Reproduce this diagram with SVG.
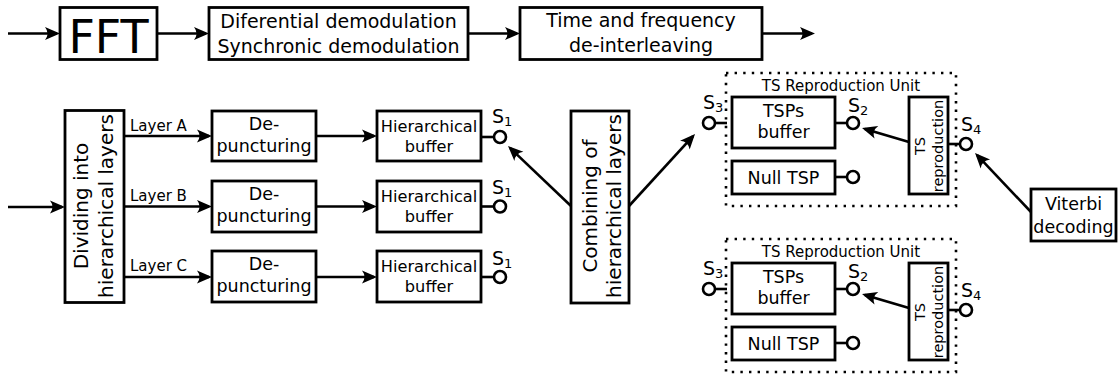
<svg xmlns="http://www.w3.org/2000/svg" width="1120" height="379" viewBox="0 0 1120 379">
  <style>
    .box { fill: #fff; stroke: #000; stroke-width: 2.8; }
    .unit { fill: none; stroke: #000; stroke-width: 2.6; stroke-dasharray: 2.4 6.2; }
    .wire { fill: none; stroke: #000; stroke-width: 2.6; }
    .arr { fill: none; stroke: #000; stroke-width: 2.6; marker-end: url(#ah); }
    .port { fill: #fff; stroke: #000; stroke-width: 2.6; }
    text { font-family: "DejaVu Sans", "Liberation Sans", sans-serif; fill: #000; }
    .t19 { font-size: 19px; text-anchor: middle; }
    .t20 { font-size: 20px; text-anchor: middle; }
    .t17 { font-size: 17.5px; text-anchor: middle; }
    .t16 { font-size: 16.2px; text-anchor: middle; }
    .t15 { font-size: 15px; }
    .t14 { font-size: 14.5px; text-anchor: middle; }
    .lbl { font-size: 19px; }
    .sub { font-size: 13px; }
  </style>
  <defs>
    <marker id="ah" markerUnits="userSpaceOnUse" orient="auto" refX="15" refY="0" markerWidth="20" markerHeight="14" overflow="visible">
      <path d="M18,0 L3,-6.5 Q8,0 3,6.5 Z" fill="#000"/>
    </marker>
  </defs>

  <!-- top chain -->
  <g id="fft">
    <rect class="box" x="60" y="7.5" width="97" height="52"/>
    <text x="108.5" y="53" style="font-size:46px;text-anchor:middle">FFT</text>
  </g>
  <g id="demodulation">
    <rect class="box" x="209" y="7.5" width="259" height="52"/>
    <text class="t19" x="338.5" y="27.5">Diferential demodulation</text>
    <text class="t19" x="338.5" y="52.5">Synchronic demodulation</text>
  </g>
  <g id="deinterleaving">
    <rect class="box" x="520" y="7.5" width="242" height="52"/>
    <text class="t19" x="641" y="27">Time and frequency</text>
    <text class="t19" x="641" y="52">de-interleaving</text>
  </g>

  <!-- layer split -->
  <g id="dividing">
    <rect class="box" x="65" y="110.5" width="59" height="192"/>
    <g transform="translate(94.5,206) rotate(-90)">
      <text class="t20" x="0" y="-6.5">Dividing into</text>
      <text class="t20" x="0" y="18.5">hierarchical layers</text>
    </g>
  </g>
  <g id="layer-labels">
    <text class="t15" x="130" y="131">Layer A</text>
    <text class="t15" x="130" y="201">Layer B</text>
    <text class="t15" x="130" y="271">Layer C</text>
  </g>

  <g id="depuncturing-a">
    <rect class="box" x="212" y="111" width="104" height="50"/>
    <text class="t17" x="264" y="130">De-</text>
    <text class="t17" x="264" y="152">puncturing</text>
  </g>
  <g id="depuncturing-b">
    <rect class="box" x="212" y="181" width="104" height="51"/>
    <text class="t17" x="264" y="200">De-</text>
    <text class="t17" x="264" y="222">puncturing</text>
  </g>
  <g id="depuncturing-c">
    <rect class="box" x="212" y="251" width="104" height="51"/>
    <text class="t17" x="264" y="270">De-</text>
    <text class="t17" x="264" y="292">puncturing</text>
  </g>

  <g id="buffer-a">
    <rect class="box" x="377" y="111" width="104" height="50"/>
    <text class="t16" x="429" y="132">Hierarchical</text>
    <text class="t16" x="429" y="152">buffer</text>
    <line class="wire" x1="481" y1="137" x2="494" y2="137"/>
    <circle class="port" cx="500" cy="137" r="6"/>
    <text class="lbl" x="492" y="123">S<tspan class="sub" dy="3">1</tspan></text>
  </g>
  <g id="buffer-b">
    <rect class="box" x="377" y="181" width="104" height="51"/>
    <text class="t16" x="429" y="202">Hierarchical</text>
    <text class="t16" x="429" y="222">buffer</text>
    <line class="wire" x1="481" y1="206.5" x2="494" y2="206.5"/>
    <circle class="port" cx="500" cy="206.5" r="6"/>
    <text class="lbl" x="492" y="194">S<tspan class="sub" dy="3">1</tspan></text>
  </g>
  <g id="buffer-c">
    <rect class="box" x="377" y="251" width="104" height="51"/>
    <text class="t16" x="429" y="272">Hierarchical</text>
    <text class="t16" x="429" y="292">buffer</text>
    <line class="wire" x1="481" y1="277" x2="494" y2="277"/>
    <circle class="port" cx="500" cy="277" r="6"/>
    <text class="lbl" x="492" y="265">S<tspan class="sub" dy="3">1</tspan></text>
  </g>

  <g id="combining">
    <rect class="box" x="571" y="111" width="58" height="192"/>
    <g transform="translate(600,206) rotate(-90)">
      <text class="t20" x="0" y="-3">Combining of</text>
      <text class="t20" x="0" y="21">hierarchical layers</text>
    </g>
  </g>

  <!-- TS reproduction units -->
  <g id="ts-unit-1">
    <rect class="unit" x="726" y="73" width="230" height="133"/>
    <text class="t15" x="841" y="90.5" text-anchor="middle">TS Reproduction Unit</text>
    <rect class="box" x="732" y="97" width="103" height="51"/>
    <text class="t17" x="783.5" y="117">TSPs</text>
    <text class="t17" x="783.5" y="138">buffer</text>
    <rect class="box" x="732" y="161" width="103" height="33"/>
    <text class="t17" x="783.5" y="183.5">Null TSP</text>
    <rect class="box" x="909" y="97" width="39" height="97"/>
    <g transform="translate(928.5,146) rotate(-90)">
      <text class="t14" x="0" y="-4">TS</text>
      <text class="t14" x="0" y="14">reproduction</text>
    </g>
    <line class="wire" x1="715" y1="123" x2="727" y2="123"/>
    <circle class="port" cx="709" cy="123" r="6"/>
    <text class="lbl" x="703" y="108.5">S<tspan class="sub" dy="3">3</tspan></text>
    <line class="wire" x1="835" y1="123" x2="847" y2="123"/>
    <circle class="port" cx="853" cy="123" r="6"/>
    <text class="lbl" x="848" y="111.5">S<tspan class="sub" dy="3">2</tspan></text>
    <line class="wire" x1="835" y1="177" x2="847" y2="177"/>
    <circle class="port" cx="853" cy="177" r="6"/>
    <line class="wire" x1="948" y1="144" x2="960" y2="144"/>
    <circle class="port" cx="966" cy="144" r="6"/>
    <text class="lbl" x="961" y="130.5">S<tspan class="sub" dy="3">4</tspan></text>
  </g>

  <g id="ts-unit-2">
    <rect class="unit" x="726" y="239" width="230" height="133"/>
    <text class="t15" x="841" y="256.5" text-anchor="middle">TS Reproduction Unit</text>
    <rect class="box" x="732" y="263" width="103" height="51"/>
    <text class="t17" x="783.5" y="283">TSPs</text>
    <text class="t17" x="783.5" y="304">buffer</text>
    <rect class="box" x="732" y="327" width="103" height="33"/>
    <text class="t17" x="783.5" y="349.5">Null TSP</text>
    <rect class="box" x="909" y="263" width="39" height="97"/>
    <g transform="translate(928.5,312) rotate(-90)">
      <text class="t14" x="0" y="-4">TS</text>
      <text class="t14" x="0" y="14">reproduction</text>
    </g>
    <line class="wire" x1="715" y1="289" x2="727" y2="289"/>
    <circle class="port" cx="709" cy="289" r="6"/>
    <text class="lbl" x="703" y="274.5">S<tspan class="sub" dy="3">3</tspan></text>
    <line class="wire" x1="835" y1="289" x2="847" y2="289"/>
    <circle class="port" cx="853" cy="289" r="6"/>
    <text class="lbl" x="848" y="277.5">S<tspan class="sub" dy="3">2</tspan></text>
    <line class="wire" x1="835" y1="343" x2="847" y2="343"/>
    <circle class="port" cx="853" cy="343" r="6"/>
    <line class="wire" x1="948" y1="310" x2="960" y2="310"/>
    <circle class="port" cx="966" cy="310" r="6"/>
    <text class="lbl" x="961" y="296.5">S<tspan class="sub" dy="3">4</tspan></text>
  </g>

  <g id="viterbi">
    <rect class="box" x="1031" y="189" width="85" height="52"/>
    <text class="t17" x="1073.5" y="210">Viterbi</text>
    <text class="t17" x="1073.5" y="233">decoding</text>
  </g>

  <!-- connectors -->
  <g id="connectors">
    <line class="arr" x1="8" y1="33.5" x2="57" y2="33.5"/>
    <line class="arr" x1="157" y1="33.5" x2="206" y2="33.5"/>
    <line class="arr" x1="468" y1="33.5" x2="517" y2="33.5"/>
    <line class="arr" x1="762" y1="33.5" x2="812" y2="33.5"/>

    <line class="arr" x1="8" y1="207" x2="62" y2="207"/>

    <line class="arr" x1="124" y1="136" x2="209" y2="136"/>
    <line class="arr" x1="124" y1="206.5" x2="209" y2="206.5"/>
    <line class="arr" x1="124" y1="277" x2="209" y2="277"/>

    <line class="arr" x1="316" y1="136" x2="374" y2="136"/>
    <line class="arr" x1="316" y1="206.5" x2="374" y2="206.5"/>
    <line class="arr" x1="316" y1="277" x2="374" y2="277"/>

    <line class="arr" x1="571" y1="206" x2="510.2" y2="148.1"/>
    <line class="arr" x1="629" y1="206" x2="693" y2="136.2"/>

    <line class="arr" x1="909" y1="142" x2="864.9" y2="128.9"/>
    <line class="arr" x1="909" y1="308" x2="864.9" y2="294.9"/>

    <line class="arr" x1="1031" y1="212" x2="977.1" y2="155.2"/>
  </g>
</svg>
